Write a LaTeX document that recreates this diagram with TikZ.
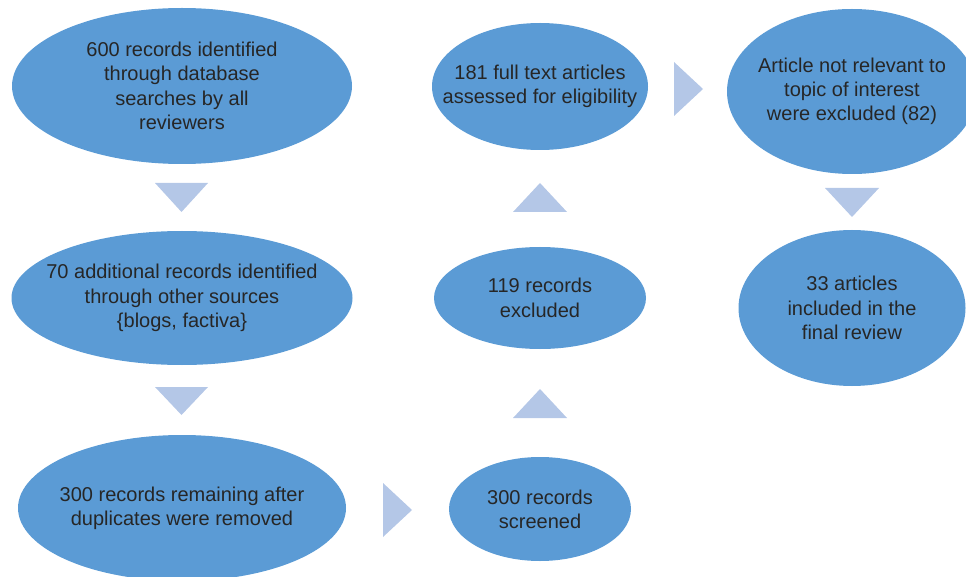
\documentclass[tikz,border=0pt]{standalone}
\usepackage{fontspec}
\setmainfont{Liberation Sans}
\usetikzlibrary{shapes.geometric}
\definecolor{ellblue}{HTML}{5B9BD5}
\definecolor{triblue}{HTML}{B4C7E7}
\definecolor{txtgray}{HTML}{262626}
\tikzset{
  oval/.style={ellipse, fill=ellblue, draw=none, inner sep=0pt},
  ovaltext/.style={align=center, text=txtgray, inner sep=0pt,
    font=\fontsize{20}{24.3}\selectfont},
  tri/.style={fill=triblue, draw=none}
}
\begin{document}
\begin{tikzpicture}[x=1pt, y=-1pt]
\useasboundingbox (0,0) rectangle (966,577);
\begin{scope}
\clip (0,0) rectangle (966,577);
% ellipses
\node[oval, minimum width=340pt, minimum height=156pt] (e1) at (182,86) {};
\node[oval, minimum width=341pt, minimum height=134pt] (e2) at (182,298) {};
\node[oval, minimum width=328pt, minimum height=146pt] (e3) at (182,508) {};
\node[oval, minimum width=182pt, minimum height=104pt] (e4) at (540,509) {};
\node[oval, minimum width=212pt, minimum height=102pt] (e5) at (540,298) {};
\node[oval, minimum width=216pt, minimum height=127pt] (e6) at (540,86.5) {};
\node[oval, minimum width=250pt, minimum height=165pt] (e7) at (852,91.5) {};
\node[oval, minimum width=227pt, minimum height=156pt] (e8) at (852,308) {};
\end{scope}
% texts
\node[ovaltext] (t1) at (e1) {600 records identified\\through database\\searches by all\\reviewers};
\node[ovaltext] (t2) at (e2) {70 additional records identified\\through other sources\\\{blogs, factiva\}};
\node[ovaltext] (t3) at (e3) {300 records remaining after\\duplicates were removed};
\node[ovaltext] (t4) at (e4) {300 records\\screened};
\node[ovaltext] (t5) at (e5) {119 records\\excluded};
\node[ovaltext] (t6) at (e6) {181 full text articles\\assessed for eligibility};
\node[ovaltext] (t7) at (e7) {Article not relevant to\\topic of interest\\were excluded (82)};
\node[ovaltext] (t8) at (e8) {33 articles\\included in the\\final review};
% triangles
\fill[tri] (155,183) -- (208,183) -- (181.5,212) -- cycle;
\fill[tri] (155,387) -- (208,387) -- (181.5,415) -- cycle;
\fill[tri] (383,483) -- (383,537) -- (412,510) -- cycle;
\fill[tri] (513,418) -- (567,418) -- (540,389) -- cycle;
\fill[tri] (513,212) -- (567,212) -- (540,183) -- cycle;
\fill[tri] (674,62) -- (674,116) -- (703,89) -- cycle;
\fill[tri] (825,188) -- (879,188) -- (852,217) -- cycle;
\end{tikzpicture}
\end{document}
